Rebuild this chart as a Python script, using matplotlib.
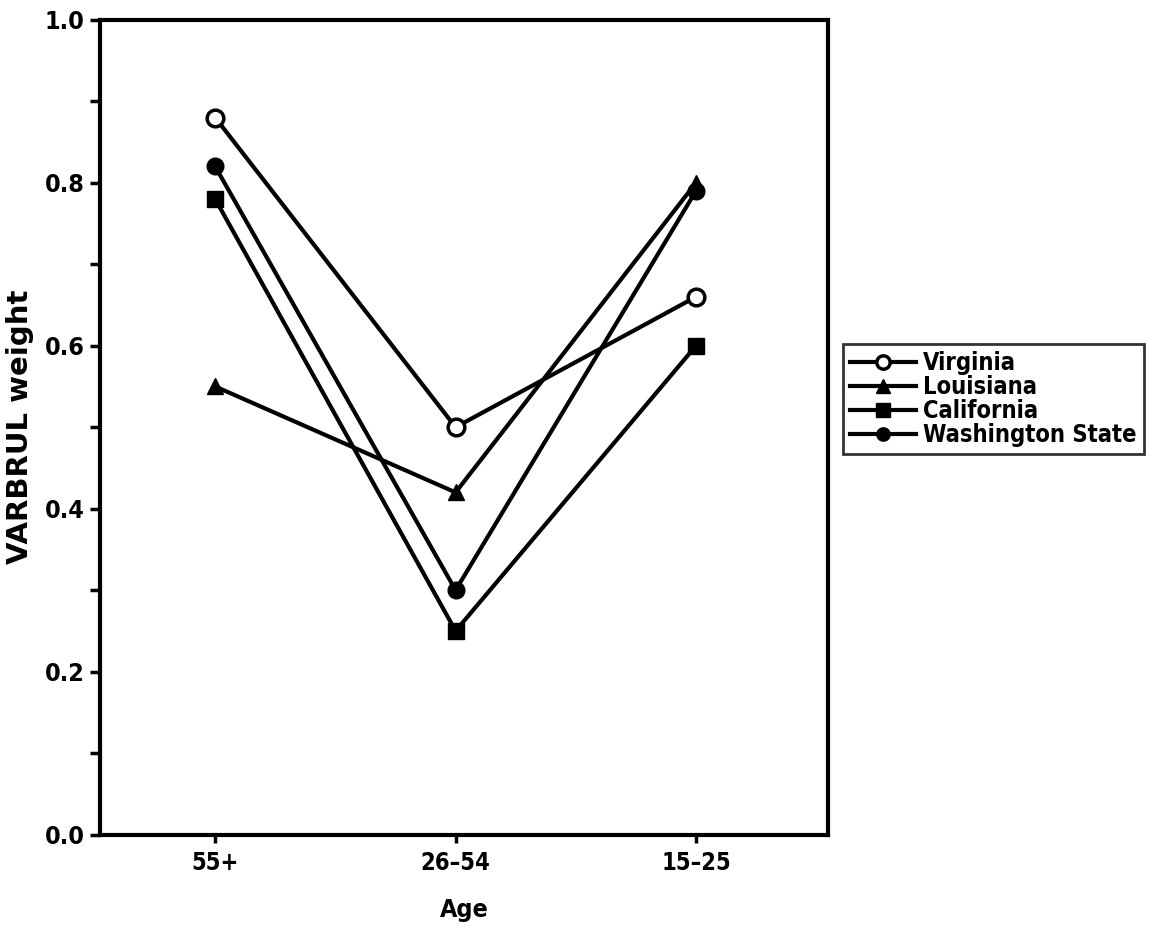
import matplotlib
matplotlib.use('Agg')
import matplotlib.pyplot as plt
from matplotlib.ticker import MultipleLocator

# the original uses a condensed bold sans
plt.rcParams['font.family'] = ['DejaVu Sans']
plt.rcParams['font.stretch'] = 'condensed'

ages = ['55+', '26\u201354', '15\u201325']
virginia = [0.88, 0.50, 0.66]
louisiana = [0.55, 0.42, 0.80]
california = [0.78, 0.25, 0.60]
washington = [0.82, 0.30, 0.79]

fig = plt.figure(figsize=(11.6, 9.41), dpi=100)
ax = fig.add_axes([0.086, 0.113, 0.628, 0.866])

x = list(range(len(ages)))
lw = 3
ms = 12
ax.plot(x, virginia, '-o', color='black', lw=lw, ms=ms, mfc='white', mew=2.5, label='Virginia')
ax.plot(x, louisiana, '-^', color='black', lw=lw, ms=ms, label='Louisiana')
ax.plot(x, california, '-s', color='black', lw=lw, ms=ms, label='California')
ax.plot(x, washington, '-o', color='black', lw=lw, ms=ms, label='Washington State')

ax.set_xlim(-0.48, 2.55)
ax.set_ylim(0, 1.0)
ax.set_xticks(x)
ax.set_xticklabels(ages, fontsize=17, fontweight='bold')
ax.yaxis.set_major_locator(MultipleLocator(0.2))
ax.yaxis.set_minor_locator(MultipleLocator(0.1))
ax.set_yticklabels(['%.1f' % v for v in ax.get_yticks()], fontsize=18, fontweight='bold')
ax.tick_params(axis='y', which='both', direction='out', length=7, width=2.5, pad=4)
ax.tick_params(axis='x', direction='out', length=6, width=2.5, pad=6)
for s in ax.spines.values():
    s.set_linewidth(3)

ax.set_xlabel('Age', fontsize=18, fontweight='bold', labelpad=16)
ax.set_ylabel('VARBRUL weight', fontsize=21, fontweight='bold', fontstretch='normal')
ax.yaxis.set_label_coords(-0.09, 0.5)

leg = fig.legend(loc='upper left', bbox_to_anchor=(843 / 1160, 1 - 344 / 941),
                 frameon=True, fancybox=False, handlelength=2.8, markerscale=0.8,
                 borderpad=0.3, labelspacing=0.0, handletextpad=0.3, borderaxespad=0,
                 prop={'weight': 'bold', 'size': 17})
leg.get_frame().set_edgecolor('black')
leg.get_frame().set_linewidth(2)

fig.savefig('out.png', dpi=100)
